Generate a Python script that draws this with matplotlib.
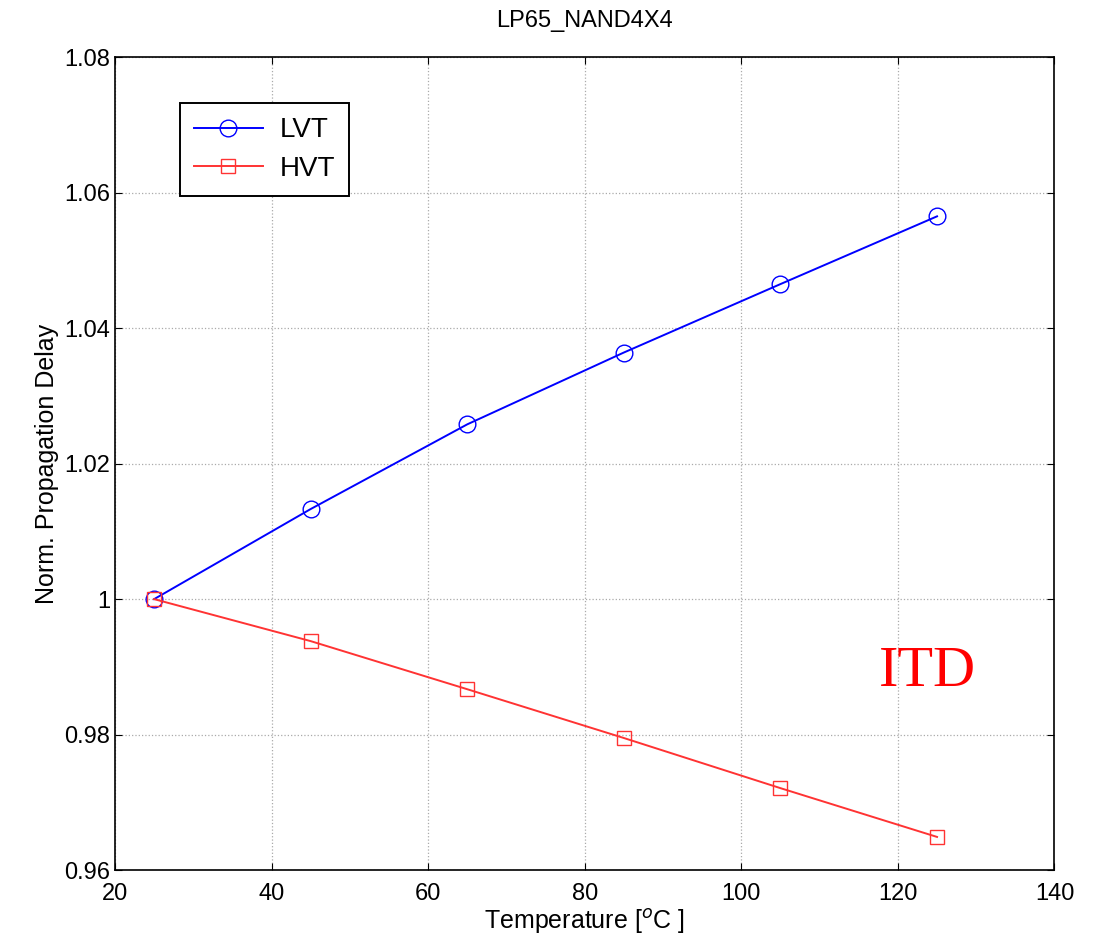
import matplotlib.pyplot as plt

# temperature sweep and normalized delays
temps = [25, 45, 65, 85, 105, 125]
lvt = [1.0, 1.0133, 1.0258, 1.0364, 1.0465, 1.0565]
hvt = [1.0, 0.9938, 0.9867, 0.9795, 0.9721, 0.9649]

plt.rcParams['font.family'] = ['Liberation Sans', 'DejaVu Sans']

fig = plt.figure(figsize=(10.95, 9.52), dpi=100)
ax = fig.add_axes([0.105, 0.086, 0.858, 0.854])

ax.plot(temps, lvt, color='blue', marker='o', markersize=12, mfc='none',
        mew=1.0, lw=1.4, label='LVT')
ax.plot(temps, hvt, color='#ff3333', marker='s', markersize=10, mfc='none',
        mew=1.0, lw=1.4, label='HVT')

ax.set_xlim(20, 140)
ax.set_ylim(0.96, 1.08)
ax.set_xticks(range(20, 141, 20))
ax.set_yticks([0.96, 0.98, 1.0, 1.02, 1.04, 1.06, 1.08])
ax.set_yticklabels(['0.96', '0.98', '1', '1.02', '1.04', '1.06', '1.08'])
ax.tick_params(labelsize=17, direction='in', length=5, top=True, right=True)
ax.tick_params(axis='x', pad=9)
ax.grid(True, linestyle=':', color='#aaaaaa', lw=0.9)
for s in ax.spines.values():
    s.set_linewidth(1.2)

ax.set_title('LP65_NAND4X4', fontsize=17, pad=22)
ax.set_xlabel('Temperature [$^o$C ]', fontsize=18, labelpad=2)
ax.set_ylabel('Norm. Propagation Delay', fontsize=18)

leg = ax.legend(loc='upper left', bbox_to_anchor=(0.069, 0.943), fontsize=20,
                fancybox=False, edgecolor='black', framealpha=1,
                handlelength=2.5, handletextpad=0.6, borderpad=0.5,
                labelspacing=0.45, borderaxespad=0)
leg.get_frame().set_linewidth(1.4)

ax.text(123.8, 0.9892, 'ITD', color='red', fontsize=42, ha='center', va='center',
        family=['Liberation Serif', 'DejaVu Serif'])

fig.savefig('out.png')
